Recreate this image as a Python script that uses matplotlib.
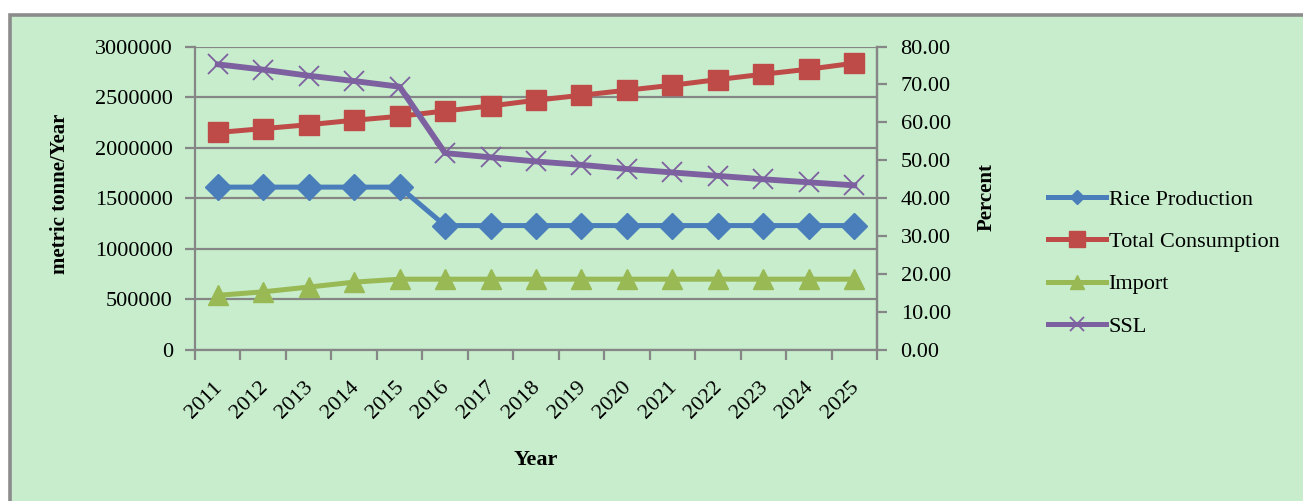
import numpy as np
import matplotlib
matplotlib.use('Agg')
import matplotlib.pyplot as plt
import matplotlib.transforms as mtransforms
from matplotlib.patches import Rectangle
from matplotlib.lines import Line2D

plt.rcParams['font.family'] = ['Liberation Serif', 'DejaVu Serif']

years = ['2011', '2012', '2013', '2014', '2015', '2016', '2017', '2018',
         '2019', '2020', '2021', '2022', '2023', '2024', '2025']
rice_production = [1610000, 1610000, 1610000, 1610000, 1610000,
                   1230000, 1230000, 1230000, 1230000, 1230000,
                   1230000, 1230000, 1230000, 1230000, 1230000]
total_consumption = [2150000, 2188000, 2227000, 2271000, 2310000,
                     2363000, 2412000, 2469000, 2518000, 2568000,
                     2617000, 2673000, 2726000, 2776000, 2835000]
imports = [540000, 575000, 622000, 671000, 700000,
           700000, 700000, 700000, 700000, 700000,
           700000, 700000, 700000, 700000, 700000]
ssl = [75.3, 73.9, 72.3, 70.9, 69.4, 51.9, 50.8, 49.7,
       48.8, 47.7, 46.8, 45.9, 45.0, 44.2, 43.4]

bg = '#c7edcc'
grid_col = '#868686'
c_rice = '#4a7ebb'
c_cons = '#be4b48'
c_imp = '#98b954'
c_ssl = '#7d60a0'

W, H = 1303, 501
fig = plt.figure(figsize=(W / 100, H / 100), dpi=100)
fig.patch.set_facecolor('white')

# green panel with grey border on left and top
fig.patches.append(Rectangle((10 / W, -0.05), 1.1, (H - 15.5) / H + 0.05,
                             transform=fig.transFigure, facecolor=bg,
                             edgecolor='#8c8c8c', linewidth=2.6, zorder=-10))

ax = fig.add_axes([195 / W, 1 - 350 / H, (877 - 195) / W, (350 - 46.5) / H])
ax.set_facecolor('none')
x = np.arange(len(years))

ax.plot(x, rice_production, color=c_rice, lw=3.6, marker='D', ms=13,
        mec=c_rice, zorder=3)
ax.plot(x, total_consumption, color=c_cons, lw=3.6, marker='s', ms=14,
        mec=c_cons, zorder=3)
ax.plot(x, imports, color=c_imp, lw=3.6, marker='^', ms=14,
        mec=c_imp, zorder=3)

ax.set_xlim(-0.5, len(years) - 0.5)
ax.set_ylim(0, 3000000)
ax.set_yticks(np.arange(0, 3000001, 500000))
ax.set_yticklabels([str(v) for v in range(0, 3000001, 500000)], fontsize=16)
ax.yaxis.grid(True, color=grid_col, lw=1.6)
ax.set_axisbelow(True)

ax.set_xticks(np.arange(-0.5, len(years), 1.0))
ax.set_xticklabels([])
ax.set_xticks(x, minor=True)
ax.set_xticklabels(years, minor=True, rotation=45, ha='right', va='top',
                   rotation_mode='anchor', fontsize=16)
ax.tick_params(axis='x', which='minor', length=0, pad=20)
# nudge year labels a little to the left
shift = mtransforms.ScaledTranslation(-5 / 100, 0, fig.dpi_scale_trans)
for lbl in ax.get_xticklabels(minor=True):
    lbl.set_transform(lbl.get_transform() + shift)
ax.tick_params(axis='both', which='major', length=7, width=1.6,
               color=grid_col, direction='out')
ax.tick_params(axis='y', pad=9)

for side in ['left', 'bottom', 'right']:
    ax.spines[side].set_color(grid_col)
    ax.spines[side].set_linewidth(1.6)
ax.spines['top'].set_visible(False)

ax2 = ax.twinx()
ax2.plot(x, ssl, color=c_ssl, lw=4.2, marker='x', ms=15, mew=1.3,
         mec=c_ssl, zorder=4)
ax2.set_ylim(0, 80)
ax2.set_yticks(np.arange(0, 81, 10))
ax2.set_yticklabels(['%.2f' % v for v in range(0, 81, 10)], fontsize=16)
ax2.tick_params(axis='y', length=7, width=1.6, color=grid_col, pad=10)
for side in ['left', 'bottom', 'top']:
    ax2.spines[side].set_visible(False)
ax2.spines['right'].set_color(grid_col)
ax2.spines['right'].set_linewidth(1.6)

fig.text(60 / W, 1 - 194 / H, 'metric tonne/Year', rotation=90,
         fontsize=15, fontweight='bold', ha='center', va='center')
fig.text(987 / W, 1 - 197 / H, 'Percent', rotation=90,
         fontsize=15, fontweight='bold', ha='center', va='center')
fig.text(536 / W, 1 - 460 / H, 'Year', fontsize=16, fontweight='bold',
         ha='center', va='center')

handles = [
    Line2D([], [], color=c_rice, lw=3.6, marker='D', ms=7),
    Line2D([], [], color=c_cons, lw=3.6, marker='s', ms=11),
    Line2D([], [], color=c_imp, lw=3.6, marker='^', ms=10),
    Line2D([], [], color=c_ssl, lw=3.6, marker='x', ms=10, mew=1.3),
]
labels = ['Rice Production', 'Total Consumption', 'Import', 'SSL']
fig.legend(handles, labels, loc='upper left',
           bbox_to_anchor=(1037 / W, 1 - 178 / H), frameon=False,
           fontsize=16, handlelength=2.6, handletextpad=0.12,
           labelspacing=0.98, borderpad=0)

fig.savefig('out.png', dpi=100, facecolor=fig.get_facecolor())
